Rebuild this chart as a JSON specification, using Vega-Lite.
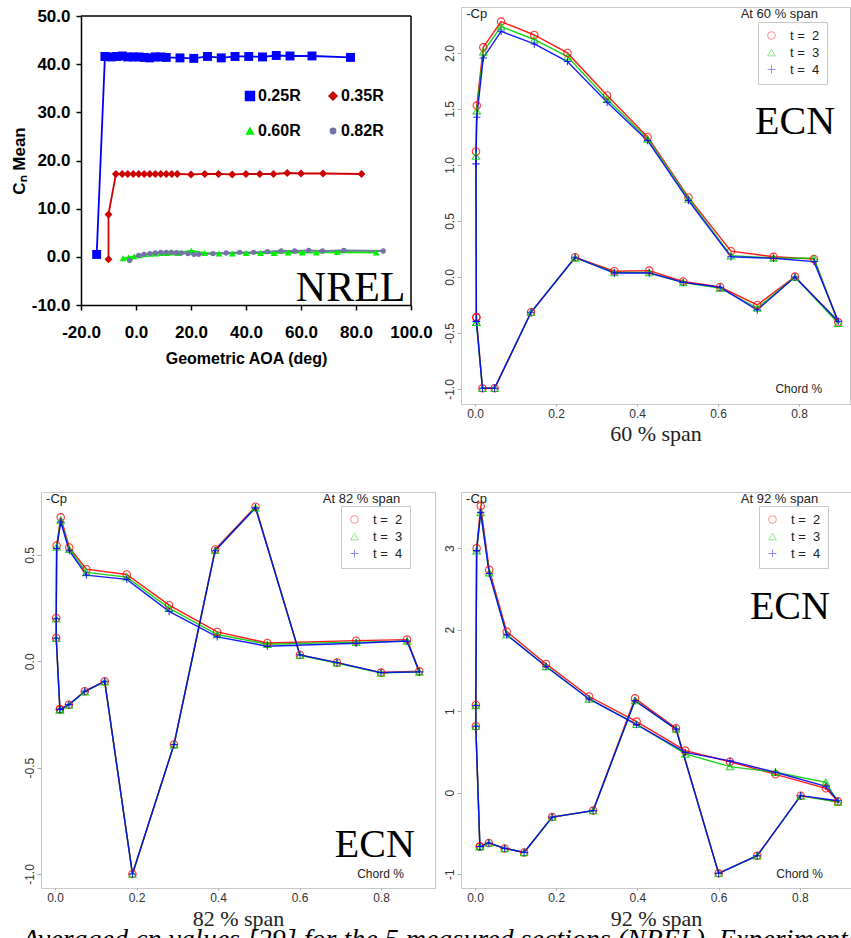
{
  "$schema": "https://vega.github.io/schema/vega-lite/v6.json",
  "background": "white",
  "padding": {"left": 10, "top": 6, "right": 0, "bottom": 0},
  "config": {"font": "Liberation Sans", "axis": {"grid": false}},
  "title": {"text": "Averaged cn values [29] for the 5 measured sections (NREL). Experimental", "orient": "bottom", "anchor": "start", "frame": "bounds", "dx": 12, "offset": -4, "font": "Liberation Serif", "fontStyle": "italic", "fontWeight": "normal", "fontSize": 28, "color": "black", "baseline": "top"},
  "datasets": {
    "nrel": [
      {"s":"0.25R","i":0,"x":-14.3,"y":0.5},{"s":"0.25R","i":1,"x":-11.3,"y":41.6},{"s":"0.25R","i":2,"x":-9,"y":41.5},{"s":"0.25R","i":3,"x":-7,"y":41.6},{"s":"0.25R","i":4,"x":-5,"y":41.7},{"s":"0.25R","i":5,"x":-3,"y":41.5},{"s":"0.25R","i":6,"x":-1,"y":41.5},{"s":"0.25R","i":7,"x":1,"y":41.5},{"s":"0.25R","i":8,"x":3,"y":41.4},{"s":"0.25R","i":9,"x":5,"y":41.3},{"s":"0.25R","i":10,"x":7,"y":41.5},{"s":"0.25R","i":11,"x":9,"y":41.5},{"s":"0.25R","i":12,"x":11,"y":41.4},{"s":"0.25R","i":13,"x":16,"y":41.3},{"s":"0.25R","i":14,"x":21,"y":41.2},{"s":"0.25R","i":15,"x":26,"y":41.6},{"s":"0.25R","i":16,"x":31,"y":41.3},{"s":"0.25R","i":17,"x":36,"y":41.6},{"s":"0.25R","i":18,"x":41,"y":41.6},{"s":"0.25R","i":19,"x":46,"y":41.5},{"s":"0.25R","i":20,"x":51,"y":41.8},{"s":"0.25R","i":21,"x":56,"y":41.7},{"s":"0.25R","i":22,"x":64,"y":41.7},{"s":"0.25R","i":23,"x":78,"y":41.4},
      {"s":"0.35R","i":0,"x":-10,"y":-0.5},{"s":"0.35R","i":1,"x":-10,"y":8.8},{"s":"0.35R","i":2,"x":-7.3,"y":17.2},{"s":"0.35R","i":3,"x":-5,"y":17.2},{"s":"0.35R","i":4,"x":-3,"y":17.2},{"s":"0.35R","i":5,"x":-1,"y":17.2},{"s":"0.35R","i":6,"x":1,"y":17.2},{"s":"0.35R","i":7,"x":3,"y":17.2},{"s":"0.35R","i":8,"x":5,"y":17.2},{"s":"0.35R","i":9,"x":7,"y":17.2},{"s":"0.35R","i":10,"x":9,"y":17.2},{"s":"0.35R","i":11,"x":11,"y":17.2},{"s":"0.35R","i":12,"x":13,"y":17.2},{"s":"0.35R","i":13,"x":15,"y":17.2},{"s":"0.35R","i":14,"x":20,"y":17.1},{"s":"0.35R","i":15,"x":25,"y":17.2},{"s":"0.35R","i":16,"x":30,"y":17.2},{"s":"0.35R","i":17,"x":35,"y":17.1},{"s":"0.35R","i":18,"x":40,"y":17.2},{"s":"0.35R","i":19,"x":45,"y":17.2},{"s":"0.35R","i":20,"x":50,"y":17.2},{"s":"0.35R","i":21,"x":55,"y":17.4},{"s":"0.35R","i":22,"x":60,"y":17.3},{"s":"0.35R","i":23,"x":68,"y":17.3},{"s":"0.35R","i":24,"x":82,"y":17.2},
      {"s":"0.60R","i":0,"x":-4.7,"y":-0.3},{"s":"0.60R","i":1,"x":-2.7,"y":-0.1},{"s":"0.60R","i":2,"x":-0.7,"y":0.1},{"s":"0.60R","i":3,"x":1.3,"y":0.3},{"s":"0.60R","i":4,"x":3.3,"y":0.5},{"s":"0.60R","i":5,"x":5.3,"y":0.6},{"s":"0.60R","i":6,"x":7.3,"y":0.7},{"s":"0.60R","i":7,"x":9.3,"y":0.8},{"s":"0.60R","i":8,"x":11.3,"y":0.8},{"s":"0.60R","i":9,"x":13.3,"y":0.9},{"s":"0.60R","i":10,"x":15.3,"y":0.8},{"s":"0.60R","i":11,"x":20.1,"y":1.3},{"s":"0.60R","i":12,"x":25,"y":0.8},{"s":"0.60R","i":13,"x":30.2,"y":0.7},{"s":"0.60R","i":14,"x":35,"y":0.7},{"s":"0.60R","i":15,"x":40.1,"y":0.8},{"s":"0.60R","i":16,"x":45.3,"y":0.8},{"s":"0.60R","i":17,"x":50.2,"y":0.8},{"s":"0.60R","i":18,"x":55.3,"y":0.9},{"s":"0.60R","i":19,"x":60.5,"y":0.9},{"s":"0.60R","i":20,"x":65.6,"y":0.9},{"s":"0.60R","i":21,"x":73.2,"y":1.0},{"s":"0.60R","i":22,"x":87.4,"y":0.9},
      {"s":"0.82R","i":0,"x":-2.3,"y":-0.72},{"s":"0.82R","i":1,"x":1.0,"y":0.32},{"s":"0.82R","i":2,"x":2.9,"y":0.53},{"s":"0.82R","i":3,"x":5.0,"y":0.66},{"s":"0.82R","i":4,"x":7.0,"y":0.8},{"s":"0.82R","i":5,"x":9.0,"y":0.94},{"s":"0.82R","i":6,"x":11.0,"y":0.94},{"s":"0.82R","i":7,"x":12.8,"y":0.94},{"s":"0.82R","i":8,"x":14.7,"y":0.87},{"s":"0.82R","i":9,"x":16.5,"y":0.8},{"s":"0.82R","i":10,"x":18.9,"y":0.66},{"s":"0.82R","i":11,"x":21.1,"y":0.53},{"s":"0.82R","i":12,"x":22.8,"y":0.53},{"s":"0.82R","i":13,"x":28.0,"y":0.66},{"s":"0.82R","i":14,"x":32.8,"y":0.8},{"s":"0.82R","i":15,"x":37.7,"y":0.94},{"s":"0.82R","i":16,"x":42.8,"y":0.94},{"s":"0.82R","i":17,"x":47.8,"y":1.07},{"s":"0.82R","i":18,"x":52.8,"y":1.21},{"s":"0.82R","i":19,"x":57.7,"y":1.21},{"s":"0.82R","i":20,"x":62.8,"y":1.35},{"s":"0.82R","i":21,"x":67.8,"y":1.21},{"s":"0.82R","i":22,"x":75.6,"y":1.35},{"s":"0.82R","i":23,"x":89.9,"y":1.21}
    ],
    "s60": [
      {"t":2,"i":0,"x":0.003,"y":-0.36},{"t":2,"i":1,"x":0.002,"y":1.12},{"t":2,"i":2,"x":0.004,"y":1.53},{"t":2,"i":3,"x":0.02,"y":2.05},{"t":2,"i":4,"x":0.064,"y":2.28},{"t":2,"i":5,"x":0.146,"y":2.16},{"t":2,"i":6,"x":0.228,"y":2.0},{"t":2,"i":7,"x":0.326,"y":1.62},{"t":2,"i":8,"x":0.426,"y":1.25},{"t":2,"i":9,"x":0.527,"y":0.71},{"t":2,"i":10,"x":0.632,"y":0.23},{"t":2,"i":11,"x":0.737,"y":0.18},{"t":2,"i":12,"x":0.837,"y":0.16},{"t":2,"i":13,"x":0.897,"y":-0.405},{"t":2,"i":14,"x":0.79,"y":0.003},{"t":2,"i":15,"x":0.697,"y":-0.25},{"t":2,"i":16,"x":0.605,"y":-0.09},{"t":2,"i":17,"x":0.514,"y":-0.04},{"t":2,"i":18,"x":0.43,"y":0.057},{"t":2,"i":19,"x":0.344,"y":0.051},{"t":2,"i":20,"x":0.247,"y":0.176},{"t":2,"i":21,"x":0.138,"y":-0.315},{"t":2,"i":22,"x":0.048,"y":-0.994},{"t":2,"i":23,"x":0.018,"y":-0.994},{"t":2,"i":24,"x":0.003,"y":-0.36},
      {"t":3,"i":0,"x":0.003,"y":-0.405},{"t":3,"i":1,"x":0.002,"y":1.08},{"t":3,"i":2,"x":0.004,"y":1.485},{"t":3,"i":3,"x":0.02,"y":2.01},{"t":3,"i":4,"x":0.064,"y":2.235},{"t":3,"i":5,"x":0.146,"y":2.12},{"t":3,"i":6,"x":0.228,"y":1.967},{"t":3,"i":7,"x":0.326,"y":1.586},{"t":3,"i":8,"x":0.426,"y":1.232},{"t":3,"i":9,"x":0.527,"y":0.696},{"t":3,"i":10,"x":0.632,"y":0.19},{"t":3,"i":11,"x":0.737,"y":0.17},{"t":3,"i":12,"x":0.837,"y":0.167},{"t":3,"i":13,"x":0.897,"y":-0.414},{"t":3,"i":14,"x":0.79,"y":0.0},{"t":3,"i":15,"x":0.697,"y":-0.277},{"t":3,"i":16,"x":0.605,"y":-0.1},{"t":3,"i":17,"x":0.514,"y":-0.05},{"t":3,"i":18,"x":0.43,"y":0.04},{"t":3,"i":19,"x":0.344,"y":0.04},{"t":3,"i":20,"x":0.247,"y":0.17},{"t":3,"i":21,"x":0.138,"y":-0.315},{"t":3,"i":22,"x":0.048,"y":-0.994},{"t":3,"i":23,"x":0.018,"y":-0.994},{"t":3,"i":24,"x":0.003,"y":-0.405},
      {"t":4,"i":0,"x":0.003,"y":-0.396},{"t":4,"i":1,"x":0.002,"y":1.01},{"t":4,"i":2,"x":0.004,"y":1.426},{"t":4,"i":3,"x":0.02,"y":1.955},{"t":4,"i":4,"x":0.064,"y":2.193},{"t":4,"i":5,"x":0.146,"y":2.08},{"t":4,"i":6,"x":0.228,"y":1.923},{"t":4,"i":7,"x":0.326,"y":1.56},{"t":4,"i":8,"x":0.426,"y":1.217},{"t":4,"i":9,"x":0.527,"y":0.682},{"t":4,"i":10,"x":0.632,"y":0.18},{"t":4,"i":11,"x":0.737,"y":0.167},{"t":4,"i":12,"x":0.837,"y":0.137},{"t":4,"i":13,"x":0.897,"y":-0.396},{"t":4,"i":14,"x":0.79,"y":0.0},{"t":4,"i":15,"x":0.697,"y":-0.295},{"t":4,"i":16,"x":0.605,"y":-0.092},{"t":4,"i":17,"x":0.514,"y":-0.048},{"t":4,"i":18,"x":0.43,"y":0.035},{"t":4,"i":19,"x":0.344,"y":0.035},{"t":4,"i":20,"x":0.247,"y":0.176},{"t":4,"i":21,"x":0.138,"y":-0.315},{"t":4,"i":22,"x":0.048,"y":-0.994},{"t":4,"i":23,"x":0.018,"y":-0.994},{"t":4,"i":24,"x":0.003,"y":-0.396}
    ],
    "s82": [
      {"t":2,"i":0,"x":0.012,"y":-0.226},{"t":2,"i":1,"x":0.003,"y":0.11},{"t":2,"i":2,"x":0.003,"y":0.204},{"t":2,"i":3,"x":0.004,"y":0.544},{"t":2,"i":4,"x":0.014,"y":0.677},{"t":2,"i":5,"x":0.035,"y":0.535},{"t":2,"i":6,"x":0.077,"y":0.433},{"t":2,"i":7,"x":0.176,"y":0.408},{"t":2,"i":8,"x":0.28,"y":0.264},{"t":2,"i":9,"x":0.398,"y":0.138},{"t":2,"i":10,"x":0.521,"y":0.086},{"t":2,"i":11,"x":0.739,"y":0.097},{"t":2,"i":12,"x":0.864,"y":0.102},{"t":2,"i":13,"x":0.894,"y":-0.047},{"t":2,"i":14,"x":0.8,"y":-0.053},{"t":2,"i":15,"x":0.692,"y":-0.006},{"t":2,"i":16,"x":0.601,"y":0.03},{"t":2,"i":17,"x":0.492,"y":0.727},{"t":2,"i":18,"x":0.393,"y":0.526},{"t":2,"i":19,"x":0.292,"y":-0.391},{"t":2,"i":20,"x":0.19,"y":-1.0},{"t":2,"i":21,"x":0.122,"y":-0.094},{"t":2,"i":22,"x":0.073,"y":-0.141},{"t":2,"i":23,"x":0.034,"y":-0.204},{"t":2,"i":24,"x":0.012,"y":-0.226},
      {"t":3,"i":0,"x":0.012,"y":-0.228},{"t":3,"i":1,"x":0.003,"y":0.108},{"t":3,"i":2,"x":0.003,"y":0.2},{"t":3,"i":3,"x":0.004,"y":0.538},{"t":3,"i":4,"x":0.014,"y":0.663},{"t":3,"i":5,"x":0.035,"y":0.527},{"t":3,"i":6,"x":0.077,"y":0.418},{"t":3,"i":7,"x":0.176,"y":0.396},{"t":3,"i":8,"x":0.28,"y":0.25},{"t":3,"i":9,"x":0.398,"y":0.126},{"t":3,"i":10,"x":0.521,"y":0.08},{"t":3,"i":11,"x":0.739,"y":0.09},{"t":3,"i":12,"x":0.864,"y":0.095},{"t":3,"i":13,"x":0.894,"y":-0.05},{"t":3,"i":14,"x":0.8,"y":-0.055},{"t":3,"i":15,"x":0.692,"y":-0.008},{"t":3,"i":16,"x":0.601,"y":0.028},{"t":3,"i":17,"x":0.492,"y":0.722},{"t":3,"i":18,"x":0.393,"y":0.522},{"t":3,"i":19,"x":0.292,"y":-0.393},{"t":3,"i":20,"x":0.19,"y":-1.0},{"t":3,"i":21,"x":0.122,"y":-0.096},{"t":3,"i":22,"x":0.073,"y":-0.143},{"t":3,"i":23,"x":0.034,"y":-0.206},{"t":3,"i":24,"x":0.012,"y":-0.228},
      {"t":4,"i":0,"x":0.012,"y":-0.226},{"t":4,"i":1,"x":0.003,"y":0.108},{"t":4,"i":2,"x":0.003,"y":0.2},{"t":4,"i":3,"x":0.004,"y":0.53},{"t":4,"i":4,"x":0.014,"y":0.655},{"t":4,"i":5,"x":0.035,"y":0.52},{"t":4,"i":6,"x":0.077,"y":0.405},{"t":4,"i":7,"x":0.176,"y":0.385},{"t":4,"i":8,"x":0.28,"y":0.235},{"t":4,"i":9,"x":0.398,"y":0.115},{"t":4,"i":10,"x":0.521,"y":0.071},{"t":4,"i":11,"x":0.739,"y":0.085},{"t":4,"i":12,"x":0.864,"y":0.095},{"t":4,"i":13,"x":0.894,"y":-0.05},{"t":4,"i":14,"x":0.8,"y":-0.053},{"t":4,"i":15,"x":0.692,"y":-0.006},{"t":4,"i":16,"x":0.601,"y":0.03},{"t":4,"i":17,"x":0.492,"y":0.722},{"t":4,"i":18,"x":0.393,"y":0.52},{"t":4,"i":19,"x":0.292,"y":-0.391},{"t":4,"i":20,"x":0.19,"y":-1.0},{"t":4,"i":21,"x":0.122,"y":-0.094},{"t":4,"i":22,"x":0.073,"y":-0.141},{"t":4,"i":23,"x":0.034,"y":-0.204},{"t":4,"i":24,"x":0.012,"y":-0.226}
    ],
    "s92": [
      {"t":2,"i":0,"x":0.012,"y":-0.66},{"t":2,"i":1,"x":0.002,"y":0.815},{"t":2,"i":2,"x":0.002,"y":1.077},{"t":2,"i":3,"x":0.004,"y":3.0},{"t":2,"i":4,"x":0.014,"y":3.517},{"t":2,"i":5,"x":0.035,"y":2.735},{"t":2,"i":6,"x":0.078,"y":1.978},{"t":2,"i":7,"x":0.175,"y":1.58},{"t":2,"i":8,"x":0.281,"y":1.18},{"t":2,"i":9,"x":0.398,"y":0.872},{"t":2,"i":10,"x":0.518,"y":0.516},{"t":2,"i":11,"x":0.628,"y":0.38},{"t":2,"i":12,"x":0.74,"y":0.225},{"t":2,"i":13,"x":0.864,"y":0.053},{"t":2,"i":14,"x":0.894,"y":-0.11},{"t":2,"i":15,"x":0.802,"y":-0.037},{"t":2,"i":16,"x":0.695,"y":-0.774},{"t":2,"i":17,"x":0.6,"y":-0.99},{"t":2,"i":18,"x":0.495,"y":0.79},{"t":2,"i":19,"x":0.394,"y":1.158},{"t":2,"i":20,"x":0.291,"y":-0.22},{"t":2,"i":21,"x":0.19,"y":-0.3},{"t":2,"i":22,"x":0.121,"y":-0.733},{"t":2,"i":23,"x":0.073,"y":-0.684},{"t":2,"i":24,"x":0.034,"y":-0.618},{"t":2,"i":25,"x":0.012,"y":-0.66},
      {"t":3,"i":0,"x":0.012,"y":-0.66},{"t":3,"i":1,"x":0.002,"y":0.815},{"t":3,"i":2,"x":0.002,"y":1.07},{"t":3,"i":3,"x":0.004,"y":2.97},{"t":3,"i":4,"x":0.014,"y":3.44},{"t":3,"i":5,"x":0.035,"y":2.7},{"t":3,"i":6,"x":0.078,"y":1.94},{"t":3,"i":7,"x":0.175,"y":1.55},{"t":3,"i":8,"x":0.281,"y":1.15},{"t":3,"i":9,"x":0.398,"y":0.84},{"t":3,"i":10,"x":0.518,"y":0.475},{"t":3,"i":11,"x":0.628,"y":0.32},{"t":3,"i":12,"x":0.74,"y":0.25},{"t":3,"i":13,"x":0.864,"y":0.127},{"t":3,"i":14,"x":0.894,"y":-0.115},{"t":3,"i":15,"x":0.802,"y":-0.04},{"t":3,"i":16,"x":0.695,"y":-0.774},{"t":3,"i":17,"x":0.6,"y":-0.99},{"t":3,"i":18,"x":0.495,"y":0.78},{"t":3,"i":19,"x":0.394,"y":1.13},{"t":3,"i":20,"x":0.291,"y":-0.22},{"t":3,"i":21,"x":0.19,"y":-0.3},{"t":3,"i":22,"x":0.121,"y":-0.733},{"t":3,"i":23,"x":0.073,"y":-0.684},{"t":3,"i":24,"x":0.034,"y":-0.618},{"t":3,"i":25,"x":0.012,"y":-0.66},
      {"t":4,"i":0,"x":0.012,"y":-0.66},{"t":4,"i":1,"x":0.002,"y":0.815},{"t":4,"i":2,"x":0.002,"y":1.07},{"t":4,"i":3,"x":0.004,"y":2.97},{"t":4,"i":4,"x":0.014,"y":3.44},{"t":4,"i":5,"x":0.035,"y":2.69},{"t":4,"i":6,"x":0.078,"y":1.937},{"t":4,"i":7,"x":0.175,"y":1.548},{"t":4,"i":8,"x":0.281,"y":1.15},{"t":4,"i":9,"x":0.398,"y":0.835},{"t":4,"i":10,"x":0.518,"y":0.495},{"t":4,"i":11,"x":0.628,"y":0.39},{"t":4,"i":12,"x":0.74,"y":0.25},{"t":4,"i":13,"x":0.864,"y":0.078},{"t":4,"i":14,"x":0.894,"y":-0.1},{"t":4,"i":15,"x":0.802,"y":-0.037},{"t":4,"i":16,"x":0.695,"y":-0.774},{"t":4,"i":17,"x":0.6,"y":-0.99},{"t":4,"i":18,"x":0.495,"y":0.78},{"t":4,"i":19,"x":0.394,"y":1.13},{"t":4,"i":20,"x":0.291,"y":-0.22},{"t":4,"i":21,"x":0.19,"y":-0.3},{"t":4,"i":22,"x":0.121,"y":-0.733},{"t":4,"i":23,"x":0.073,"y":-0.684},{"t":4,"i":24,"x":0.034,"y":-0.618},{"t":4,"i":25,"x":0.012,"y":-0.66}
    ]
  },
  "resolve": {"scale": {"color": "independent", "shape": "independent", "size": "independent"}, "legend": {"color": "independent", "shape": "independent", "size": "independent"}},
  "columns": 2,
  "align": "each",
  "bounds": "full",
  "spacing": {"row": 46, "column": 6},
  "concat": [
    {
      "width": 370, "height": 298,
      "data": {"name": "nrel"},
      "view": {"stroke": null},
      "encoding": {
        "x": {"field": "x", "type": "quantitative", "scale": {"domain": [-20, 100], "range": [40, 370], "nice": false, "zero": false},
              "axis": {"values": [-20, 0, 20, 40, 60, 80, 100], "format": ".1f", "labelExpr": "replace(datum.label, '−', '-')", "title": "Geometric AOA (deg)", "domainColor": "black", "domainWidth": 1.5, "tickColor": "black", "tickWidth": 1.5, "tickSize": 5, "labelFont": "Liberation Sans", "labelFontWeight": "bold", "labelFontSize": 17, "labelColor": "black", "labelPadding": 14, "labelFlush": false, "labelOverlap": false, "titleFont": "Liberation Sans", "titleFontWeight": "bold", "titleFontSize": 16, "titleColor": "black", "titlePadding": 10}},
        "y": {"field": "y", "type": "quantitative", "scale": {"domain": [-10, 50], "range": [298, 9], "nice": false, "zero": false},
              "axis": {"offset": -40, "values": [-10, 0, 10, 20, 30, 40, 50], "format": ".1f", "labelExpr": "replace(datum.label, '−', '-')", "title": "Cₙ Mean", "domainColor": "black", "domainWidth": 1.5, "tickColor": "black", "tickWidth": 1.5, "tickSize": 5, "labelFont": "Liberation Sans", "labelFontWeight": "bold", "labelFontSize": 17, "labelColor": "black", "labelPadding": 6, "labelFlush": false, "labelOverlap": false, "titleFont": "Liberation Sans", "titleFontWeight": "bold", "titleFontSize": 17, "titleColor": "black", "titlePadding": 3}},
        "color": {"field": "s", "type": "nominal", "scale": {"domain": ["0.25R", "0.35R", "0.60R", "0.82R"], "range": ["#0000ff", "#cc0000", "#00ee00", "#7474a4"]},
                  "legend": {"orient": "none", "legendX": 201, "legendY": 81, "title": null, "columns": 2, "direction": "horizontal", "labelFont": "Liberation Sans", "labelFontWeight": "bold", "labelFontSize": 16, "labelColor": "black", "symbolSize": 50, "labelOffset": 0, "rowPadding": 19, "columnPadding": 24, "padding": 0}}
      },
      "layer": [
        {"transform": [{"filter": "datum.s == '0.25R' && datum.i == 0"}], "mark": {"type": "rule", "strokeWidth": 1.5},
         "encoding": {"x": {"datum": -20}, "x2": {"datum": 100}, "y": {"datum": 50}, "color": {"value": "black"}}},
        {"transform": [{"filter": "datum.s == '0.25R' && datum.i == 0"}], "mark": {"type": "rule", "strokeWidth": 1.5},
         "encoding": {"x": {"datum": 100}, "y": {"datum": -10}, "y2": {"datum": 50}, "color": {"value": "black"}}},
        {"mark": {"type": "line", "strokeWidth": 1.8}, "encoding": {"order": {"field": "i", "type": "quantitative"}}},
        {"mark": {"type": "point", "filled": true, "opacity": 1},
         "encoding": {
           "shape": {"field": "s", "type": "nominal", "scale": {"domain": ["0.25R", "0.35R", "0.60R", "0.82R"], "range": ["square", "diamond", "triangle-up", "circle"]},
                     "legend": {"orient": "none", "legendX": 201, "legendY": 81, "title": null, "columns": 2, "direction": "horizontal", "labelFont": "Liberation Sans", "labelFontWeight": "bold", "labelFontSize": 16, "labelColor": "black", "symbolSize": 50, "labelOffset": 0, "rowPadding": 19, "columnPadding": 24, "padding": 0}},
           "size": {"field": "s", "type": "nominal", "scale": {"domain": ["0.25R", "0.35R", "0.60R", "0.82R"], "range": [80, 28, 40, 45]}, "legend": null}
         }},
        {"transform": [{"filter": "datum.s == '0.25R' && datum.i == 0"}],
         "mark": {"type": "text", "font": "Liberation Serif", "fontSize": 42, "align": "right", "baseline": "alphabetic"},
         "encoding": {"x": {"datum": 98}, "y": {"datum": -9.2}, "text": {"value": "NREL"}, "color": {"value": "black"}}}
      ]
    },
    {
      "width": 389, "height": 397,
      "data": {"name": "s60"},
      "view": {"stroke": "#c8c8c8", "strokeWidth": 1},
      "encoding": {
        "x": {"field": "x", "type": "quantitative", "scale": {"domain": [-0.035, 0.926], "nice": false, "zero": false},
              "axis": {"values": [0, 0.2, 0.4, 0.6, 0.8], "format": ".1f", "title": "60 % span", "domain": false, "tickSize": 2, "tickColor": "#aaaaaa", "labelFont": "Liberation Sans", "labelFontSize": 12, "labelColor": "#333333", "labelPadding": 2, "titleFont": "Liberation Serif", "titleFontSize": 22, "titleFontWeight": "normal", "titleColor": "#222222", "titlePadding": 4}},
        "y": {"field": "y", "type": "quantitative", "scale": {"domain": [-1.134, 2.41], "nice": false, "zero": false},
              "axis": {"values": [-1, -0.5, 0, 0.5, 1, 1.5, 2], "format": ".1f", "labelExpr": "replace(datum.label, '−', '-')", "title": null, "domain": false, "tickSize": 4, "tickColor": "#aaaaaa", "labelFont": "Liberation Sans", "labelFontSize": 12, "labelColor": "#333333", "labelPadding": 1, "labelAngle": -90, "labelAlign": "center", "labelBaseline": "bottom"}},
        "color": {"field": "t", "type": "nominal", "scale": {"domain": [2, 3, 4], "range": ["#ff0000", "#00cc00", "#0000ff"]},
                  "legend": {"orient": "none", "legendX": 297, "legendY": 15, "title": null, "strokeColor": "#c8c8c8", "fillColor": "white", "padding": 7, "labelFont": "Liberation Sans", "labelFontSize": 13, "labelColor": "#222222", "labelExpr": "'t =\u00a0\u00a0' + datum.label", "symbolSize": 60, "symbolOpacity": 0.45, "symbolStrokeWidth": 1, "rowPadding": 3, "labelOffset": 12}}
      },
      "layer": [
        {"mark": {"type": "line", "strokeWidth": 1.4, "opacity": 0.9}, "encoding": {"order": {"field": "i", "type": "quantitative"}}},
        {"mark": {"type": "point", "filled": false, "strokeWidth": 1.1, "size": 55, "opacity": 0.8},
         "encoding": {"shape": {"field": "t", "type": "nominal", "scale": {"domain": [2, 3, 4], "range": ["circle", "triangle-up", "M-1,0H1M0,-1V1"]},
                                "legend": {"orient": "none", "legendX": 297, "legendY": 15, "title": null, "strokeColor": "#c8c8c8", "fillColor": "white", "padding": 7, "labelFont": "Liberation Sans", "labelFontSize": 13, "labelColor": "#222222", "labelExpr": "'t =\u00a0\u00a0' + datum.label", "symbolSize": 60, "symbolOpacity": 0.45, "symbolStrokeWidth": 1, "rowPadding": 3, "labelOffset": 12}}}},
        {"transform": [{"filter": "datum.t == 2 && datum.i == 0"}], "mark": {"type": "text", "font": "Liberation Sans", "fontSize": 13, "align": "left", "baseline": "middle"},
         "encoding": {"x": {"datum": -0.022}, "y": {"datum": 2.344}, "text": {"value": "-Cp"}, "color": {"value": "#222222"}}},
        {"transform": [{"filter": "datum.t == 2 && datum.i == 0"}], "mark": {"type": "text", "font": "Liberation Sans", "fontSize": 13, "align": "right", "baseline": "middle"},
         "encoding": {"x": {"datum": 0.847}, "y": {"datum": 2.344}, "text": {"value": "At 60 % span"}, "color": {"value": "#222222"}}},
        {"transform": [{"filter": "datum.t == 2 && datum.i == 0"}], "mark": {"type": "text", "font": "Liberation Sans", "fontSize": 12, "align": "right", "baseline": "middle"},
         "encoding": {"x": {"datum": 0.857}, "y": {"datum": -1.0}, "text": {"value": "Chord %"}, "color": {"value": "#222222"}}},
        {"transform": [{"filter": "datum.t == 2 && datum.i == 0"}], "mark": {"type": "text", "font": "Liberation Serif", "fontSize": 40, "align": "right", "baseline": "alphabetic"},
         "encoding": {"x": {"datum": 0.889}, "y": {"datum": 1.277}, "text": {"value": "ECN"}, "color": {"value": "black"}}}
      ]
    },
    {
      "width": 394, "height": 396,
      "data": {"name": "s82"},
      "view": {"stroke": "#c8c8c8", "strokeWidth": 1},
      "encoding": {
        "x": {"field": "x", "type": "quantitative", "scale": {"domain": [-0.0344, 0.9325], "nice": false, "zero": false},
              "axis": {"values": [0, 0.2, 0.4, 0.6, 0.8], "format": ".1f", "title": "82 % span", "domain": false, "tickSize": 2, "tickColor": "#aaaaaa", "labelFont": "Liberation Sans", "labelFontSize": 12, "labelColor": "#333333", "labelPadding": 2, "titleFont": "Liberation Serif", "titleFontSize": 22, "titleFontWeight": "normal", "titleColor": "#222222", "titlePadding": 5}},
        "y": {"field": "y", "type": "quantitative", "scale": {"domain": [-1.066, 0.796], "nice": false, "zero": false},
              "axis": {"values": [-1, -0.5, 0, 0.5], "format": ".1f", "labelExpr": "replace(datum.label, '−', '-')", "title": null, "domain": false, "tickSize": 4, "tickColor": "#aaaaaa", "labelFont": "Liberation Sans", "labelFontSize": 12, "labelColor": "#333333", "labelPadding": 1, "labelAngle": -90, "labelAlign": "center", "labelBaseline": "bottom"}},
        "color": {"field": "t", "type": "nominal", "scale": {"domain": [2, 3, 4], "range": ["#ff0000", "#00cc00", "#0000ff"]},
                  "legend": {"orient": "none", "legendX": 300, "legendY": 14, "title": null, "strokeColor": "#c8c8c8", "fillColor": "white", "padding": 7, "labelFont": "Liberation Sans", "labelFontSize": 13, "labelColor": "#222222", "labelExpr": "'t =\u00a0\u00a0' + datum.label", "symbolSize": 60, "symbolOpacity": 0.45, "symbolStrokeWidth": 1, "rowPadding": 3, "labelOffset": 12}}
      },
      "layer": [
        {"mark": {"type": "line", "strokeWidth": 1.4, "opacity": 0.9}, "encoding": {"order": {"field": "i", "type": "quantitative"}}},
        {"mark": {"type": "point", "filled": false, "strokeWidth": 1.1, "size": 55, "opacity": 0.8},
         "encoding": {"shape": {"field": "t", "type": "nominal", "scale": {"domain": [2, 3, 4], "range": ["circle", "triangle-up", "M-1,0H1M0,-1V1"]},
                                "legend": {"orient": "none", "legendX": 300, "legendY": 14, "title": null, "strokeColor": "#c8c8c8", "fillColor": "white", "padding": 7, "labelFont": "Liberation Sans", "labelFontSize": 13, "labelColor": "#222222", "labelExpr": "'t =\u00a0\u00a0' + datum.label", "symbolSize": 60, "symbolOpacity": 0.45, "symbolStrokeWidth": 1, "rowPadding": 3, "labelOffset": 12}}}},
        {"transform": [{"filter": "datum.t == 2 && datum.i == 0"}], "mark": {"type": "text", "font": "Liberation Sans", "fontSize": 13, "align": "left", "baseline": "middle"},
         "encoding": {"x": {"datum": -0.022}, "y": {"datum": 0.763}, "text": {"value": "-Cp"}, "color": {"value": "#222222"}}},
        {"transform": [{"filter": "datum.t == 2 && datum.i == 0"}], "mark": {"type": "text", "font": "Liberation Sans", "fontSize": 13, "align": "right", "baseline": "middle"},
         "encoding": {"x": {"datum": 0.847}, "y": {"datum": 0.763}, "text": {"value": "At 82 % span"}, "color": {"value": "#222222"}}},
        {"transform": [{"filter": "datum.t == 2 && datum.i == 0"}], "mark": {"type": "text", "font": "Liberation Sans", "fontSize": 12, "align": "right", "baseline": "middle"},
         "encoding": {"x": {"datum": 0.856}, "y": {"datum": -1.0}, "text": {"value": "Chord %"}, "color": {"value": "#222222"}}},
        {"transform": [{"filter": "datum.t == 2 && datum.i == 0"}], "mark": {"type": "text", "font": "Liberation Serif", "fontSize": 40, "align": "right", "baseline": "alphabetic"},
         "encoding": {"x": {"datum": 0.883}, "y": {"datum": -0.92}, "text": {"value": "ECN"}, "color": {"value": "black"}}}
      ]
    },
    {
      "width": 390, "height": 396,
      "data": {"name": "s92"},
      "view": {"stroke": "#c8c8c8", "strokeWidth": 1},
      "encoding": {
        "x": {"field": "x", "type": "quantitative", "scale": {"domain": [-0.0345, 0.926], "nice": false, "zero": false},
              "axis": {"values": [0, 0.2, 0.4, 0.6, 0.8], "format": ".1f", "title": "92 % span", "domain": false, "tickSize": 2, "tickColor": "#aaaaaa", "labelFont": "Liberation Sans", "labelFontSize": 12, "labelColor": "#333333", "labelPadding": 2, "titleFont": "Liberation Serif", "titleFontSize": 22, "titleFontWeight": "normal", "titleColor": "#222222", "titlePadding": 5}},
        "y": {"field": "y", "type": "quantitative", "scale": {"domain": [-1.17, 3.69], "nice": false, "zero": false},
              "axis": {"values": [-1, 0, 1, 2, 3], "format": "d", "labelExpr": "replace(datum.label, '−', '-')", "title": null, "domain": false, "tickSize": 4, "tickColor": "#aaaaaa", "labelFont": "Liberation Sans", "labelFontSize": 12, "labelColor": "#333333", "labelPadding": 1, "labelAngle": -90, "labelAlign": "center", "labelBaseline": "bottom"}},
        "color": {"field": "t", "type": "nominal", "scale": {"domain": [2, 3, 4], "range": ["#ff0000", "#00cc00", "#0000ff"]},
                  "legend": {"orient": "none", "legendX": 298, "legendY": 14, "title": null, "strokeColor": "#c8c8c8", "fillColor": "white", "padding": 7, "labelFont": "Liberation Sans", "labelFontSize": 13, "labelColor": "#222222", "labelExpr": "'t =\u00a0\u00a0' + datum.label", "symbolSize": 60, "symbolOpacity": 0.45, "symbolStrokeWidth": 1, "rowPadding": 3, "labelOffset": 12}}
      },
      "layer": [
        {"mark": {"type": "line", "strokeWidth": 1.4, "opacity": 0.9}, "encoding": {"order": {"field": "i", "type": "quantitative"}}},
        {"mark": {"type": "point", "filled": false, "strokeWidth": 1.1, "size": 55, "opacity": 0.8},
         "encoding": {"shape": {"field": "t", "type": "nominal", "scale": {"domain": [2, 3, 4], "range": ["circle", "triangle-up", "M-1,0H1M0,-1V1"]},
                                "legend": {"orient": "none", "legendX": 298, "legendY": 14, "title": null, "strokeColor": "#c8c8c8", "fillColor": "white", "padding": 7, "labelFont": "Liberation Sans", "labelFontSize": 13, "labelColor": "#222222", "labelExpr": "'t =\u00a0\u00a0' + datum.label", "symbolSize": 60, "symbolOpacity": 0.45, "symbolStrokeWidth": 1, "rowPadding": 3, "labelOffset": 12}}}},
        {"transform": [{"filter": "datum.t == 2 && datum.i == 0"}], "mark": {"type": "text", "font": "Liberation Sans", "fontSize": 13, "align": "left", "baseline": "middle"},
         "encoding": {"x": {"datum": -0.022}, "y": {"datum": 3.6}, "text": {"value": "-Cp"}, "color": {"value": "#222222"}}},
        {"transform": [{"filter": "datum.t == 2 && datum.i == 0"}], "mark": {"type": "text", "font": "Liberation Sans", "fontSize": 13, "align": "right", "baseline": "middle"},
         "encoding": {"x": {"datum": 0.845}, "y": {"datum": 3.6}, "text": {"value": "At 92 % span"}, "color": {"value": "#222222"}}},
        {"transform": [{"filter": "datum.t == 2 && datum.i == 0"}], "mark": {"type": "text", "font": "Liberation Sans", "fontSize": 12, "align": "right", "baseline": "middle"},
         "encoding": {"x": {"datum": 0.857}, "y": {"datum": -1.0}, "text": {"value": "Chord %"}, "color": {"value": "#222222"}}},
        {"transform": [{"filter": "datum.t == 2 && datum.i == 0"}], "mark": {"type": "text", "font": "Liberation Serif", "fontSize": 40, "align": "right", "baseline": "alphabetic"},
         "encoding": {"x": {"datum": 0.874}, "y": {"datum": 2.13}, "text": {"value": "ECN"}, "color": {"value": "black"}}}
      ]
    }
  ]
}
